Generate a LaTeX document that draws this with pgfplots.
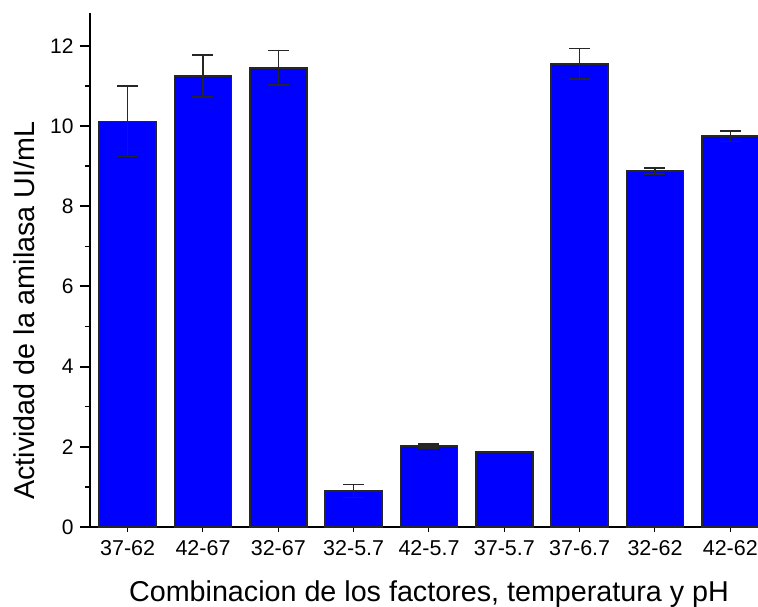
\documentclass[border=0pt]{standalone}
\usepackage{fontspec}
\setmainfont{Liberation Sans}
\usepackage{pgfplots}
\pgfplotsset{compat=1.18}
\usepackage{pgfplotstable}

% Amylase activity per temperature-pH combination (mean, error)
\pgfplotstableread{
x y err
0 10.12 0.88
1 11.25 0.52
2 11.45 0.43
3 0.90 0.16
4 2.02 0.05
5 1.87 0.00
6 11.55 0.38
7 8.88 0.07
8 9.75 0.13
}\amilasa

\begin{document}
\begin{tikzpicture}
\useasboundingbox (-90pt,-79pt) rectangle (668pt,527pt);
\begin{axis}[
  at={(0,0)}, anchor=south west,
  scale only axis, width=678pt, height=514pt,
  xmin=-0.5, xmax=8.5, ymin=0, ymax=12.82,
  axis x line*=bottom, axis y line*=left,
  axis line style={line width=2pt, black},
  tick align=outside,
  major tick length=10pt, minor tick length=5pt,
  xtick={0,...,8},
  xticklabels={37-62,42-67,32-67,32-5.7,42-5.7,37-5.7,37-6.7,32-62,42-62},
  major x tick style={draw=none},
  minor xtick={0,...,8},
  minor x tick style={line width=1pt, black},
  extra x ticks={-0.5,0.5,...,8.5},
  extra x tick labels={},
  extra x tick style={major x tick style={black, line width=2pt},
    tick align=center, major tick length=13pt},
  ytick={0,2,...,12},
  minor y tick num=1,
  major y tick style={line width=2pt, black},
  minor y tick style={line width=1.5pt, black},
  xticklabel style={font=\fontsize{21.5}{22}\selectfont},
  yticklabel style={font=\fontsize{21}{22}\selectfont, xshift=-3pt},
  /pgf/number format/assume math mode=true,
  xlabel={Combinacion de los factores, temperatura y pH},
  ylabel={Actividad de la amilasa UI/mL},
  label style={font=\fontsize{28.7}{30}\selectfont},
  xlabel style={at={(axis description cs:0.5,0)}, anchor=base, yshift=-74pt},
  ylabel style={at={(axis description cs:0,0.421)}, anchor=base, yshift=55pt},
  clip=true,
]
\addplot[ybar, bar width=57pt, fill={rgb,255:red,0;green,0;blue,255},
  draw=black!85, line width=1.5pt,
  error bars/.cd, y dir=both, y explicit,
  error bar style={line width=1.5pt, black!85},
  error mark options={rotate=90, mark size=10.5pt, line width=1.5pt, black!85}]
  table[x=x, y=y, y error=err] {\amilasa};
\end{axis}
\end{tikzpicture}
\end{document}
